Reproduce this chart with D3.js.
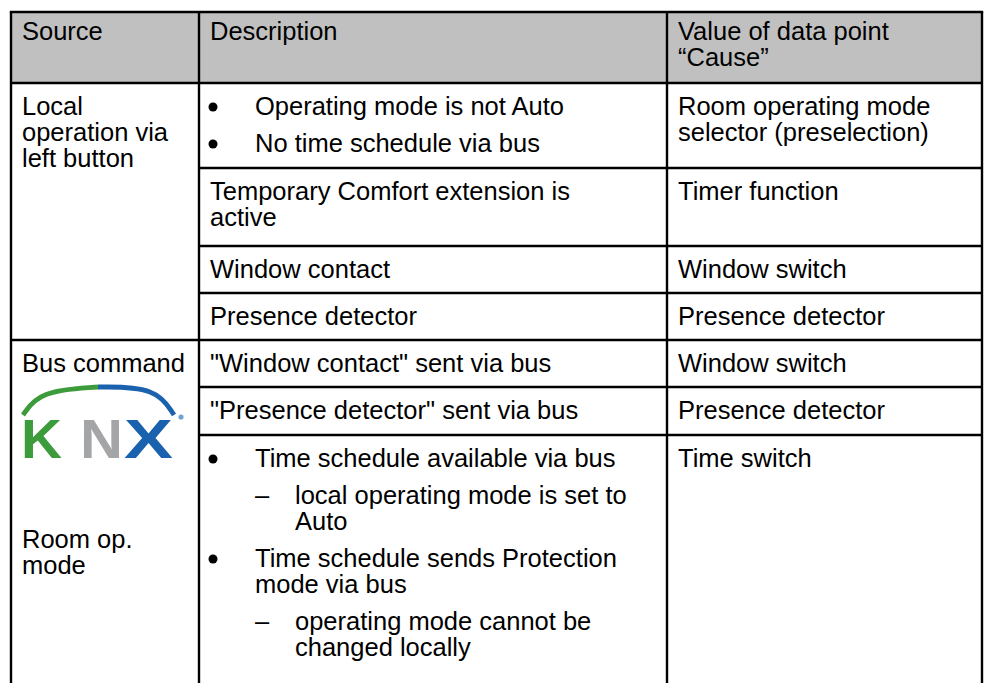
<!DOCTYPE html>
<html><head><meta charset="utf-8">
<script src="https://cdn.jsdelivr.net/npm/d3@7"></script>
<style>body{margin:0;background:#fff}svg{display:block}text{font-family:"Liberation Sans",Arial,sans-serif;font-size:25.5px;fill:#000}</style>
</head><body><svg id="c" width="993" height="683"></svg>
<script>
// ---- data ----
const headers = [["Source"], ["Description"], ["Value of data point", "“Cause”"]];
const sources = [
  {lines: ["Local", "operation via", "left button"], after: [], span: 4, logo: false},
  {lines: ["Bus command"], after: ["Room op.", "mode"], span: 3, logo: true}
];
const descriptions = [
  [{type: "bullet", lines: ["Operating mode is not Auto"]}, {type: "bullet", lines: ["No time schedule via bus"]}],
  [{type: "text", lines: ["Temporary Comfort extension is", "active"]}],
  [{type: "text", lines: ["Window contact"]}],
  [{type: "text", lines: ["Presence detector"]}],
  [{type: "text", lines: ["\"Window contact\" sent via bus"]}],
  [{type: "text", lines: ["\"Presence detector\" sent via bus"]}],
  [{type: "bullet", lines: ["Time schedule available via bus"]},
   {type: "dash", lines: ["local operating mode is set to", "Auto"]},
   {type: "bullet", lines: ["Time schedule sends Protection", "mode via bus"]},
   {type: "dash", lines: ["operating mode cannot be", "changed locally"]}]
];
const causes = [
  ["Room operating mode", "selector (preselection)"],
  ["Timer function"],
  ["Window switch"],
  ["Presence detector"],
  ["Window switch"],
  ["Presence detector"],
  ["Time switch"]
];
const logoLetters = ["K", "N", "X"];

// ---- layout ----
const colX = [11, 199, 667, 982];
const rowY = [12, 83, 168, 246, 293, 340, 387, 435, 700];
const lh = 26, padX = 11, base = 32, itemGap = 11;
const green = "#3c9b3a", gray = "#a3a5a6", blue = "#1a62ae";

const svg = d3.select("#c");
const x = d3.scaleOrdinal().domain([0, 1, 2]).range(colX.slice(0, 3));

// header background
svg.append("rect").attr("x", colX[0]).attr("y", rowY[0])
  .attr("width", colX[3] - colX[0]).attr("height", rowY[1] - rowY[0]).attr("fill", "#c0c0c0");

// header text
headers.forEach((h, i) => {
  svg.append("g").selectAll("text").data(h).join("text")
    .attr("x", x(i) + padX).attr("y", (d, j) => rowY[0] + 28 + j * 26).text(d => d);
});

// sources
let r = 1;
sources.forEach(s => {
  const top = rowY[r];
  const g = svg.append("g");
  g.selectAll("text.l").data(s.lines).join("text").attr("class", "l")
    .attr("x", colX[0] + padX).attr("y", (d, j) => top + base + j * lh).text(d => d);
  if (s.logo) {
    const lg = g.append("g");
    const arc = d3.line().curve(d3.curveBasis);
    lg.append("path").attr("d", arc([[23, 415], [40, 391], [98, 387]]))
      .attr("fill", "none").attr("stroke", green).attr("stroke-width", 4.8);
    lg.append("path").attr("d", arc([[98, 387], [156, 387], [174, 415]]))
      .attr("fill", "none").attr("stroke", blue).attr("stroke-width", 4.8);
    const lx = [21, 80, 124], lw = [41, 43, 49], lc = [green, gray, blue];
    lg.selectAll("text").data(logoLetters).join("text")
      .attr("x", (d, i) => lx[i]).attr("y", 458)
      .attr("textLength", (d, i) => lw[i]).attr("lengthAdjust", "spacingAndGlyphs")
      .style("font-size", "56px").style("font-weight", "bold").style("fill", (d, i) => lc[i]).text(d => d);
    lg.append("circle").attr("cx", 181).attr("cy", 417).attr("r", 2.6).attr("fill", "#6fa3d6");
  }
  g.selectAll("text.a").data(s.after).join("text").attr("class", "a")
    .attr("x", colX[0] + padX).attr("y", (d, j) => 548 + j * lh).text(d => d);
  r += s.span;
});

// descriptions
descriptions.forEach((items, i) => {
  const top = rowY[i + 1];
  let y = top + base;
  const g = svg.append("g");
  items.forEach((it, k) => {
    if (k > 0) y += lh + itemGap;
    let tx = colX[1] + padX;
    if (it.type === "bullet") {
      g.append("circle").attr("cx", colX[1] + 14).attr("cy", y - 8).attr("r", 4.5).attr("fill", "#000");
      tx = 255;
    } else if (it.type === "dash") {
      g.append("text").attr("x", 255).attr("y", y).text("–");
      tx = 295;
    }
    it.lines.forEach((ln, j) => {
      if (j > 0) y += lh;
      g.append("text").attr("x", tx).attr("y", y).text(ln);
    });
  });
});

// causes
causes.forEach((c, i) => {
  svg.append("g").selectAll("text").data(c).join("text")
    .attr("x", colX[2] + padX).attr("y", (d, j) => rowY[i + 1] + base + j * lh).text(d => d);
});

// grid lines
const gl = svg.append("g").attr("stroke", "#000").attr("stroke-width", 2.4);
gl.append("line").attr("x1", colX[0] - 1.2).attr("x2", colX[3] + 1.2).attr("y1", rowY[0]).attr("y2", rowY[0]);
gl.append("line").attr("x1", colX[0]).attr("x2", colX[3]).attr("y1", rowY[1]).attr("y2", rowY[1]);
colX.forEach(cx => gl.append("line").attr("x1", cx).attr("x2", cx).attr("y1", rowY[0]).attr("y2", 683));
rowY.slice(2, 8).forEach(yy => gl.append("line").attr("x1", colX[1]).attr("x2", colX[3]).attr("y1", yy).attr("y2", yy));
gl.append("line").attr("x1", colX[0]).attr("x2", colX[1]).attr("y1", rowY[5]).attr("y2", rowY[5]);
</script></body></html>
